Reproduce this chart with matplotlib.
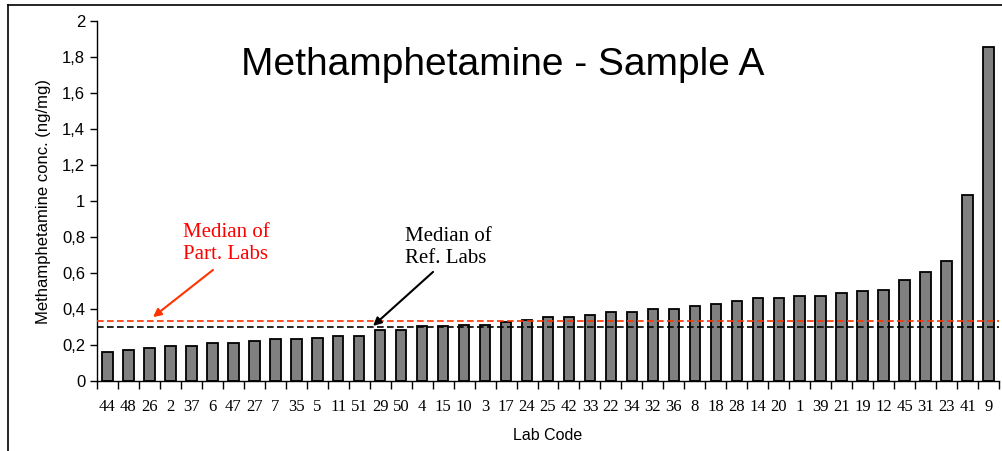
import matplotlib.pyplot as plt
from matplotlib.lines import Line2D
from matplotlib.ticker import FuncFormatter

# lab codes sorted by concentration
labs = ["44", "48", "26", "2", "37", "6", "47", "27", "7", "35", "5", "11", "51", "29",
        "50", "4", "15", "10", "3", "17", "24", "25", "42", "33", "22", "34", "32", "36",
        "8", "18", "28", "14", "20", "1", "39", "21", "19", "12", "45", "31", "23", "41", "9"]
conc = [0.16, 0.175, 0.185, 0.194, 0.194, 0.213, 0.213, 0.222, 0.232, 0.232, 0.241, 0.25,
        0.25, 0.283, 0.283, 0.304, 0.304, 0.313, 0.313, 0.329, 0.339, 0.357, 0.357, 0.367,
        0.383, 0.383, 0.40, 0.40, 0.418, 0.428, 0.444, 0.463, 0.463, 0.472, 0.472, 0.489,
        0.498, 0.507, 0.563, 0.606, 0.668, 1.035, 1.857]
median_part = 0.335
median_ref = 0.30
yticks = [0, 0.2, 0.4, 0.6, 0.8, 1.0, 1.2, 1.4, 1.6, 1.8, 2.0]

fig = plt.figure(figsize=(10.03, 4.51), dpi=100)
ax = fig.add_axes([97 / 1003, 70 / 451, 902 / 1003, 360 / 451])

x = list(range(len(labs)))
ax.bar(x, conc, width=0.5, color="#808080", edgecolor="black", linewidth=1.3, zorder=2)

ax.axhline(median_part, color="#FF3300", linestyle=(0, (4, 2)), linewidth=1.2, zorder=3)
ax.axhline(median_ref, color="black", linestyle=(0, (4, 2)), linewidth=1.2, zorder=3)

ax.set_xlim(-0.5, len(labs) - 0.5)
ax.set_ylim(0, 2)

# ticks between categories, labels centred under bars
ax.set_xticks([i - 0.5 for i in range(len(labs) + 1)])
ax.set_xticklabels([])
ax.set_xticks(x, minor=True)
ax.set_xticklabels(labs, minor=True, fontfamily="Liberation Serif", fontsize=12)
ax.tick_params(axis="x", which="major", direction="out", length=6, width=1)
ax.tick_params(axis="x", which="minor", length=0, pad=13)

ax.set_yticks(yticks)
ax.yaxis.set_major_formatter(FuncFormatter(lambda v, p: ("%g" % v).replace(".", ",")))
ax.tick_params(axis="y", direction="out", length=5, width=1, labelsize=12)
for lab in ax.get_yticklabels():
    lab.set_fontfamily("Liberation Sans")

for s in ["top", "right"]:
    ax.spines[s].set_visible(False)
for s in ["left", "bottom"]:
    ax.spines[s].set_linewidth(1.0)

ax.set_ylabel("Methamphetamine conc. (ng/mg)", fontfamily="Liberation Sans", fontsize=12, labelpad=8)
ax.set_xlabel("Lab Code", fontfamily="Liberation Sans", fontsize=11.5, labelpad=9)

ax.text(0.45, 0.878, "Methamphetamine - Sample A", transform=ax.transAxes,
        ha="center", va="center", fontfamily="Liberation Sans", fontsize=28)

# annotations
ax.text(3.6, 0.765, "Median of\nPart. Labs", color="#FF0000", fontfamily="Liberation Serif",
        fontsize=15, ha="left", va="center", linespacing=1.2)
ax.annotate("", xy=(2.17, 0.355), xytext=(5.03, 0.617),
            arrowprops=dict(arrowstyle="-|>", color="#FF3300", lw=1.5, mutation_scale=12,
                            shrinkA=0, shrinkB=0))
ax.text(14.18, 0.74, "Median of\nRef. Labs", color="black", fontfamily="Liberation Serif",
        fontsize=15, ha="left", va="center", linespacing=1.2)
ax.annotate("", xy=(12.66, 0.306), xytext=(15.52, 0.606),
            arrowprops=dict(arrowstyle="-|>", color="black", lw=1.5, mutation_scale=12,
                            shrinkA=0, shrinkB=0))

# outer chart frame (cut at bottom/right)
fig.add_artist(Line2D([8 / 1003, 8 / 1003], [0, 1 - 5 / 451], color="black", lw=1.2))
fig.add_artist(Line2D([8 / 1003, 1], [1 - 5 / 451, 1 - 5 / 451], color="black", lw=1.2))

fig.savefig("out.png", dpi=100)
